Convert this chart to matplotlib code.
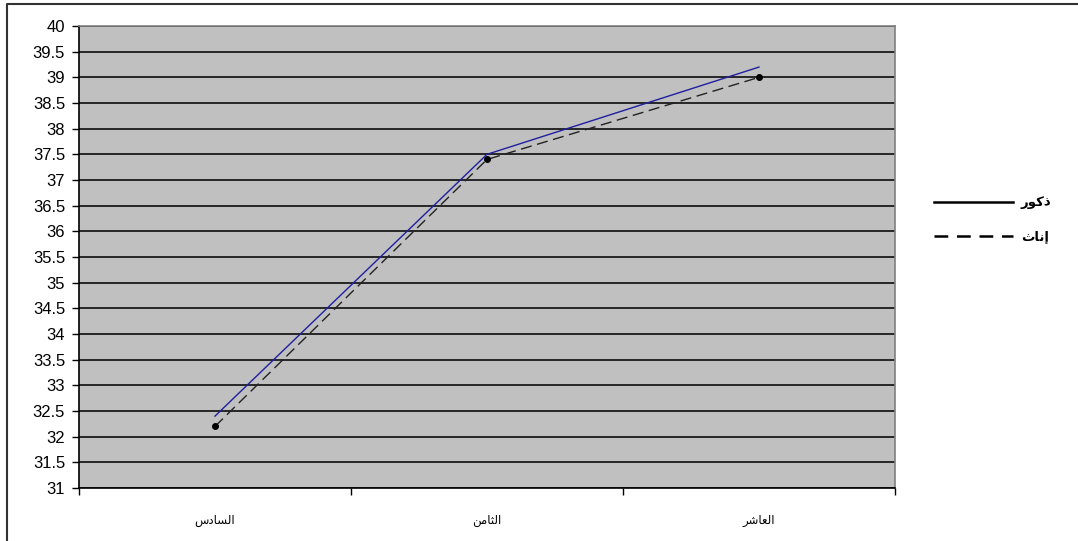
import matplotlib
matplotlib.use("Agg")
import matplotlib.pyplot as plt
from matplotlib.lines import Line2D

# ---- data ----
categories = ["السادس", "الثامن", "العاشر"]
males = [32.4, 37.5, 39.2]
females = [32.2, 37.4, 39.0]
series_labels = ["ذكور", "إناث"]
y_ticks = [31 + 0.5 * i for i in range(19)]

# ---- minimal Arabic shaping (matplotlib has no text shaping) ----
FORMS = {
    'ا': (0xFE8D, 0xFE8E, None, None),
    'إ': (0xFE87, 0xFE88, None, None),
    'د': (0xFEA9, 0xFEAA, None, None),
    'ذ': (0xFEAB, 0xFEAC, None, None),
    'ر': (0xFEAD, 0xFEAE, None, None),
    'و': (0xFEED, 0xFEEE, None, None),
    'ل': (0xFEDD, 0xFEDE, 0xFEDF, 0xFEE0),
    'س': (0xFEB1, 0xFEB2, 0xFEB3, 0xFEB4),
    'ش': (0xFEB5, 0xFEB6, 0xFEB7, 0xFEB8),
    'ث': (0xFE99, 0xFE9A, 0xFE9B, 0xFE9C),
    'م': (0xFEE1, 0xFEE2, 0xFEE3, 0xFEE4),
    'ن': (0xFEE5, 0xFEE6, 0xFEE7, 0xFEE8),
    'ع': (0xFEC9, 0xFECA, 0xFECB, 0xFECC),
    'ك': (0xFED9, 0xFEDA, 0xFEDB, 0xFEDC),
}


def shape(word):
    out = []
    n = len(word)
    for i, ch in enumerate(word):
        f = FORMS.get(ch)
        if f is None:
            out.append(ch)
            continue
        prev = FORMS.get(word[i - 1]) if i > 0 else None
        nxt = FORMS.get(word[i + 1]) if i < n - 1 else None
        jp = prev is not None and prev[2] is not None
        jn = nxt is not None and f[2] is not None
        if jp and jn:
            code = f[3]
        elif jp:
            code = f[1]
        elif jn:
            code = f[2]
        else:
            code = f[0]
        out.append(chr(code))
    return "".join(reversed(out))


plt.rcParams['font.family'] = ['Liberation Sans', 'DejaVu Sans']

fig = plt.figure(figsize=(10.78, 5.41), dpi=100)
ax = fig.add_axes([79 / 1078, 1 - 488 / 541, (895 - 79) / 1078, (488 - 26) / 541])
ax.set_facecolor('#C0C0C0')

x = list(range(len(categories)))
ax.plot(x, males, color='#1F1FA0', lw=1.0, zorder=3)
ax.plot(x, females, color='#222222', lw=1.0, ls=(0, (8, 4)), marker='o',
        markersize=4, markerfacecolor='black', markeredgecolor='black', zorder=3)

ax.set_xlim(-0.5, len(categories) - 0.5)
ax.set_ylim(31, 40)
ax.set_yticks(y_ticks)
ax.set_yticklabels([f"{v:g}" for v in y_ticks], fontsize=12)
ax.yaxis.grid(True, color='#1a1a1a', lw=1.3)
ax.set_axisbelow(True)

ax.set_xticks([i - 0.5 for i in range(len(categories) + 1)])
ax.set_xticklabels([])
ax.set_xticks(x, minor=True)
ax.set_xticklabels([shape(c) for c in categories], minor=True,
                   family=['DejaVu Sans'], fontsize=8.5)
ax.tick_params(axis='x', which='minor', length=0, pad=19)
ax.tick_params(axis='x', which='major', length=5, width=1, color='black', direction='out')
ax.tick_params(axis='y', length=5, width=1, color='black', direction='out', pad=5)

for s in ['left', 'bottom']:
    ax.spines[s].set_color('black')
    ax.spines[s].set_linewidth(1.2)
for s in ['top', 'right']:
    ax.spines[s].set_color('#808080')
    ax.spines[s].set_linewidth(1.2)

handles = [Line2D([], [], color='black', lw=1.8),
           Line2D([], [], color='black', lw=1.8, ls=(0, (5.5, 3.5)))]
leg = fig.legend(handles, [shape(s) for s in series_labels],
                 loc='center left', bbox_to_anchor=(922 / 1078, 1 - 220 / 541),
                 frameon=False, handlelength=6.0, handletextpad=0.6,
                 labelspacing=1.6, prop={'family': 'DejaVu Sans', 'size': 9.5, 'weight': 'bold'})

# outer chart border (top and left visible)
fig.add_artist(Line2D([7 / 1078, 7 / 1078, 1.0], [0.0, 1 - 4 / 541, 1 - 4 / 541],
                      transform=fig.transFigure, color='#333333', lw=1.5))

fig.savefig('out.png', dpi=100)
